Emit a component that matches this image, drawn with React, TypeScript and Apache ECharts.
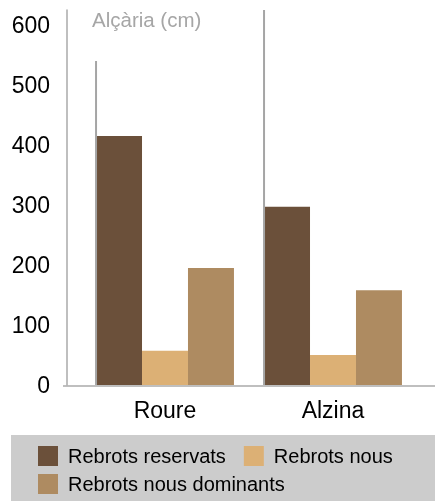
import React, { useEffect, useRef } from "react";
import * as echarts from "echarts";

const categories = ["Roure", "Alzina"];
const seriesNames = ["Rebrots reservats", "Rebrots nous", "Rebrots nous dominants"];
const reservats = [415, 297];
const nous = [57, 50];
const dominants = [195, 158];
const lineTops = [540, 625];
const yTicks = [0, 100, 200, 300, 400, 500, 600];
const colors = ["#6b503a", "#dcb075", "#ae8b61"];

const FONT = "'Liberation Sans', Arial, Helvetica, sans-serif";
const CAT_GAP = 0.179;

export default function App() {
  const ref = useRef<HTMLDivElement>(null);
  useEffect(() => {
    if (!ref.current) return;
    const chart = echarts.init(ref.current, null, { renderer: "svg" });
    const values = [reservats, nous, dominants];
    chart.setOption({
      animation: false,
      textStyle: { fontFamily: FONT },
      title: {
        text: "Alçària (cm)",
        left: 92,
        top: 9,
        padding: 0,
        textStyle: { fontSize: 20.5, fontWeight: "normal", color: "#a6a6a6", fontFamily: FONT },
      },
      grid: { left: 81, right: 18, top: 10, bottom: 116, containLabel: false },
      xAxis: {
        type: "category",
        data: categories,
        axisLine: { show: false },
        axisTick: { show: false },
        axisLabel: { fontSize: 23, color: "#000", margin: 13, fontFamily: FONT },
      },
      yAxis: {
        type: "value",
        min: 0,
        max: 625,
        interval: 100,
        offset: 14,
        axisLine: { show: true, lineStyle: { color: "#aaaaaa", width: 1.5 } },
        axisTick: { show: false },
        splitLine: { show: false },
        axisLabel: {
          fontSize: 23,
          color: "#000",
          margin: 17,
          fontFamily: FONT,
          formatter: (v: number) => (yTicks.includes(v) ? String(v) : ""),
        },
      },
      legend: [
        {
          data: [seriesNames[0], seriesNames[1]],
          left: 38,
          top: 446,
          padding: 0,
          itemWidth: 20,
          itemHeight: 20,
          itemGap: 18,
          icon: "rect",
          selectedMode: false,
          textStyle: { fontSize: 20, color: "#000", fontFamily: FONT, padding: [0, 0, 0, 5] },
        },
        {
          data: [seriesNames[2]],
          left: 38,
          top: 474,
          padding: 0,
          itemWidth: 20,
          itemHeight: 20,
          icon: "rect",
          selectedMode: false,
          textStyle: { fontSize: 20, color: "#000", fontFamily: FONT, padding: [0, 0, 0, 5] },
        },
      ],
      graphic: [
        {
          type: "rect",
          shape: { x: 11, y: 435, width: 424, height: 66 },
          style: { fill: "#cccccc" },
          z: -10,
          silent: true,
        },
        {
          type: "line",
          shape: { x1: 63, y1: 386, x2: 435, y2: 386 },
          style: { stroke: "#aaaaaa", lineWidth: 1.7 },
          silent: true,
        },
      ],
      series: [
        ...seriesNames.map((name, i) => ({
          type: "bar",
          name,
          data: values[i],
          barGap: "0%",
          barCategoryGap: CAT_GAP * 100 + "%",
          itemStyle: { color: colors[i] },
        })),
        {
          type: "custom",
          name: "lines",
          data: lineTops.map((v, i) => [i, v]),
          encode: { x: 0, y: 1 },
          z: 5,
          renderItem: (params: any, api: any) => {
            const cat = api.value(0);
            const val = api.value(1);
            const top = api.coord([cat, val]);
            const base = api.coord([cat, 0]);
            const band = api.size([1, 0])[0];
            const x = top[0] - (band * (1 - CAT_GAP)) / 2;
            return {
              type: "line",
              shape: { x1: x, y1: top[1], x2: x, y2: base[1] },
              style: { stroke: "#a5a5a5", lineWidth: 2 },
            };
          },
        },
      ],
    });
    return () => chart.dispose();
  }, []);
  return (
    <div
      ref={ref}
      style={{ position: "fixed", left: 0, top: 0, width: 435, height: 501 }}
    />
  );
}
